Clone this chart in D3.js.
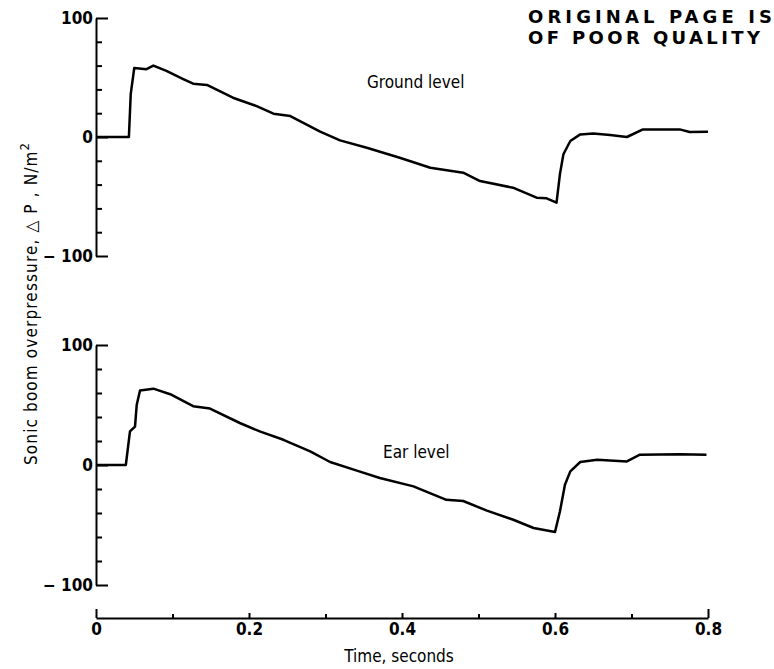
<!DOCTYPE html>
<html>
<head>
<meta charset="utf-8">
<script src="https://cdn.jsdelivr.net/npm/d3@7"></script>
<style>
  html, body { margin: 0; padding: 0; background: #fff; }
  svg { display: block; }
  text { fill: #000; }
</style>
</head>
<body>
<script>
// ---- data ----
const groundTime = [0, 0.043, 0.0454, 0.050, 0.066, 0.075, 0.092, 0.114, 0.127, 0.145, 0.179, 0.210, 0.232, 0.254, 0.293, 0.319, 0.354, 0.397, 0.437, 0.480, 0.502, 0.545, 0.576, 0.589, 0.602, 0.6065, 0.611, 0.620, 0.633, 0.650, 0.672, 0.694, 0.715, 0.763, 0.776, 0.800];
const groundPressure = [0, 0, 36, 58, 57, 60, 55.5, 48.7, 44.8, 43.7, 33, 26, 19.6, 17.6, 4.5, -2.8, -9, -17.4, -25.8, -30, -37, -42.6, -51, -51.5, -55.2, -31, -14.5, -3.4, 2.2, 3, 1.7, 0, 6.4, 6.4, 4.2, 4.5];

const earTime = [0, 0.039, 0.0444, 0.051, 0.0532, 0.0575, 0.075, 0.097, 0.127, 0.149, 0.188, 0.214, 0.245, 0.280, 0.306, 0.341, 0.371, 0.415, 0.458, 0.480, 0.511, 0.5455, 0.572, 0.600, 0.6065, 0.613, 0.620, 0.633, 0.655, 0.694, 0.711, 0.763, 0.798];
const earPressure = [0, 0, 28, 32, 50, 62, 63.6, 59, 49, 47, 35, 28, 21, 11.4, 2.5, -4.7, -10.8, -17.8, -29, -30, -38, -45.6, -52.5, -55.8, -38.6, -16.4, -5.3, 2.5, 4.4, 3, 8.6, 9, 8.6];

const xTickLabels = [0, 0.2, 0.4, 0.6, 0.8];
const xMinorTicks = [0.1, 0.3, 0.5, 0.7];
const yTickLabels = [-100, 0, 100];
const yMinorTicks = [-80, -60, -40, -20, 20, 40, 60, 80];
const panelLabels = ["Ground level", "Ear level"];
const stampLines = ["ORIGINAL PAGE IS", "OF POOR QUALITY"];

// ---- layout ----
const W = 774, H = 669;
const svg = d3.select("body").append("svg").attr("width", W).attr("height", H);

const x = d3.scaleLinear().domain([0, 0.8]).range([96, 708]);
const yTop = d3.scaleLinear().domain([-100, 100]).range([256, 18]);
const yBot = d3.scaleLinear().domain([-100, 100]).range([585, 345]);
const xAxisY = 618;

const tickFont = "'DejaVu Sans Condensed', 'Liberation Sans Narrow', sans-serif";
const labFont = "'DejaVu Sans Condensed', 'Liberation Sans Narrow', sans-serif";

function styleAxis(g) {
  g.selectAll("path.domain").attr("stroke", "#000").attr("stroke-width", 2);
  g.selectAll(".tick line").attr("stroke", "#000").attr("stroke-width", 2);
  g.selectAll(".tick text")
    .attr("font-family", tickFont)
    .attr("font-weight", "bold")
    .attr("font-size", 17)
    .attr("fill", "#000");
}

function drawPanel(yScale, times, values, label, labelX, labelY) {
  const minor = svg.append("g").attr("transform", `translate(${x(0)},0)`)
    .call(d3.axisLeft(yScale).tickValues(yMinorTicks).tickSizeInner(-6).tickSizeOuter(0).tickFormat(""));
  styleAxis(minor);
  const major = svg.append("g").attr("transform", `translate(${x(0)},0)`)
    .call(d3.axisLeft(yScale).tickValues(yTickLabels).tickSizeInner(-12).tickSizeOuter(0).tickPadding(3)
      .tickFormat(d => d < 0 ? "\u2212 100" : String(d)));
  styleAxis(major);
  major.select("path.domain").remove();

  const line = d3.line().x((d, i) => x(times[i])).y((d, i) => yScale(values[i]));
  svg.append("path")
    .datum(values)
    .attr("d", line)
    .attr("fill", "none")
    .attr("stroke", "#000")
    .attr("stroke-width", 2.5)
    .attr("stroke-linejoin", "round");

  svg.append("text")
    .attr("x", labelX).attr("y", labelY)
    .attr("font-family", labFont)
    .attr("font-size", 17)
    .attr("dominant-baseline", "middle")
    .text(label);
}

drawPanel(yTop, groundTime, groundPressure, panelLabels[0], 367, 83);
drawPanel(yBot, earTime, earPressure, panelLabels[1], 383, 453);

// ---- x axis ----
const xMinorG = svg.append("g").attr("transform", `translate(0,${xAxisY})`)
  .call(d3.axisBottom(x).tickValues(xMinorTicks).tickSizeInner(-4).tickSizeOuter(0).tickFormat(""));
styleAxis(xMinorG);
const xMajorG = svg.append("g").attr("transform", `translate(0,${xAxisY})`)
  .call(d3.axisBottom(x).tickValues(xTickLabels).tickSizeInner(-5).tickSizeOuter(0).tickPadding(5)
    .tickFormat(d => d === 0 ? "0" : d3.format(".1f")(d)));
styleAxis(xMajorG);
xMajorG.select("path.domain").remove();
xMajorG.selectAll(".tick line").filter(d => d === 0 || d === 0.8).attr("y2", -9);

svg.append("text")
  .attr("x", 399).attr("y", 657)
  .attr("text-anchor", "middle")
  .attr("dominant-baseline", "middle")
  .attr("font-family", labFont)
  .attr("font-size", 17)
  .text("Time, seconds");

// ---- y label ----
const yl = svg.append("text")
  .attr("transform", "translate(37,304) rotate(-90)")
  .attr("text-anchor", "middle")
  .attr("font-family", labFont)
  .attr("font-size", 17)
  .attr("textLength", 322)
  .attr("lengthAdjust", "spacing");
yl.append("tspan").text("Sonic boom overpressure, \u25B3 P ,  N/m");
yl.append("tspan").attr("dy", -8).attr("font-size", 13).text("2");

// ---- stamp ----
stampLines.forEach((s, i) => {
  svg.append("text")
    .attr("x", 528).attr("y", 18 + i * 21)
    .attr("dominant-baseline", "middle")
    .attr("font-family", "'DejaVu Sans', sans-serif")
    .attr("font-weight", "bold")
    .attr("font-size", 18)
    .attr("textLength", i === 0 ? 244 : 232)
    .attr("lengthAdjust", "spacing")
    .attr("fill", "#111")
    .text(s);
});
</script>
</body>
</html>
